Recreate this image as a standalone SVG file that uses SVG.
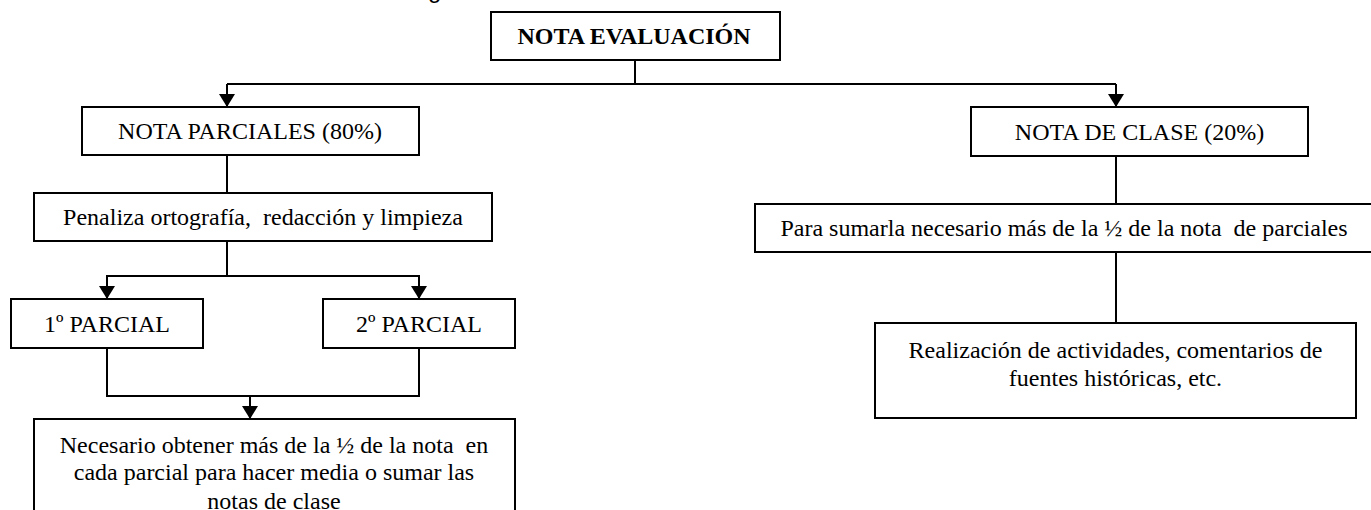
<svg xmlns="http://www.w3.org/2000/svg" width="1371" height="510" viewBox="0 0 1371 510">
  <style>
    .box { fill: #ffffff; stroke: #000000; stroke-width: 2; }
    .t { font-family: "Liberation Serif", "Times New Roman", serif; font-size: 24px; fill: #000000; text-anchor: middle; }
    .b { font-weight: bold; }
    .conn { fill: none; stroke: #000000; stroke-width: 2; }
    .arr { marker-end: url(#ah); }
  </style>
  <defs>
    <marker id="ah" viewBox="0 0 13 16" refX="13" refY="8" markerWidth="13" markerHeight="16" markerUnits="userSpaceOnUse" orient="auto">
      <path d="M0,0 L13,8 L0,16 Z" fill="#000000"/>
    </marker>
  </defs>
  <rect width="1371" height="510" fill="#ffffff"/>

  <text x="428" y="-2" style="font-family: 'Liberation Sans', Arial, sans-serif; font-size: 24px;" fill="#000000">g</text>

  <g id="connectors">
    <path class="conn" d="M635,60 V84"/>
    <path class="conn" d="M227,84 H1116"/>
    <path class="conn arr" d="M227,84 V107"/>
    <path class="conn arr" d="M1116,84 V107"/>
    <path class="conn" d="M227,155 V193"/>
    <path class="conn arr" d="M227,241 V276 H107 V299"/>
    <path class="conn arr" d="M227,276 H419 V299"/>
    <path class="conn" d="M107,348 V396 H419 V348"/>
    <path class="conn arr" d="M250,396 V419"/>
    <path class="conn" d="M1116,156 V204"/>
    <path class="conn" d="M1116,252 V323"/>
  </g>

  <g id="nota-evaluacion">
    <rect class="box" x="491" y="12" width="289" height="48"/>
    <text class="t b" x="634" y="44">NOTA EVALUACIÓN</text>
  </g>

  <g id="nota-parciales">
    <rect class="box" x="82" y="107" width="337" height="48"/>
    <text class="t" x="250" y="139">NOTA PARCIALES (80%)</text>
  </g>

  <g id="nota-clase">
    <rect class="box" x="971" y="107" width="337" height="49"/>
    <text class="t" x="1139.5" y="140">NOTA DE CLASE (20%)</text>
  </g>

  <g id="penaliza">
    <rect class="box" x="34" y="193" width="458" height="48"/>
    <text class="t" x="263" y="225" xml:space="preserve">Penaliza ortografía,  redacción y limpieza</text>
  </g>

  <g id="para-sumarla">
    <rect class="box" x="755" y="204" width="620" height="48"/>
    <text class="t" x="1064" y="236" xml:space="preserve">Para sumarla necesario más de la ½ de la nota  de parciales</text>
  </g>

  <g id="parcial-1">
    <rect class="box" x="11" y="299" width="192" height="49"/>
    <text class="t" x="107" y="332">1º PARCIAL</text>
  </g>

  <g id="parcial-2">
    <rect class="box" x="323" y="299" width="192" height="49"/>
    <text class="t" x="419" y="332">2º PARCIAL</text>
  </g>

  <g id="necesario">
    <rect class="box" x="34" y="419" width="481" height="120"/>
    <text class="t" x="274" y="452.5" xml:space="preserve">Necesario obtener más de la ½ de la nota  en</text>
    <text class="t" x="274" y="480">cada parcial para hacer media o sumar las</text>
    <text class="t" x="274" y="509">notas de clase</text>
  </g>

  <g id="realizacion">
    <rect class="box" x="875" y="323" width="481" height="95"/>
    <text class="t" x="1115.5" y="358">Realización de actividades, comentarios de</text>
    <text class="t" x="1115.5" y="386">fuentes históricas, etc.</text>
  </g>
</svg>
